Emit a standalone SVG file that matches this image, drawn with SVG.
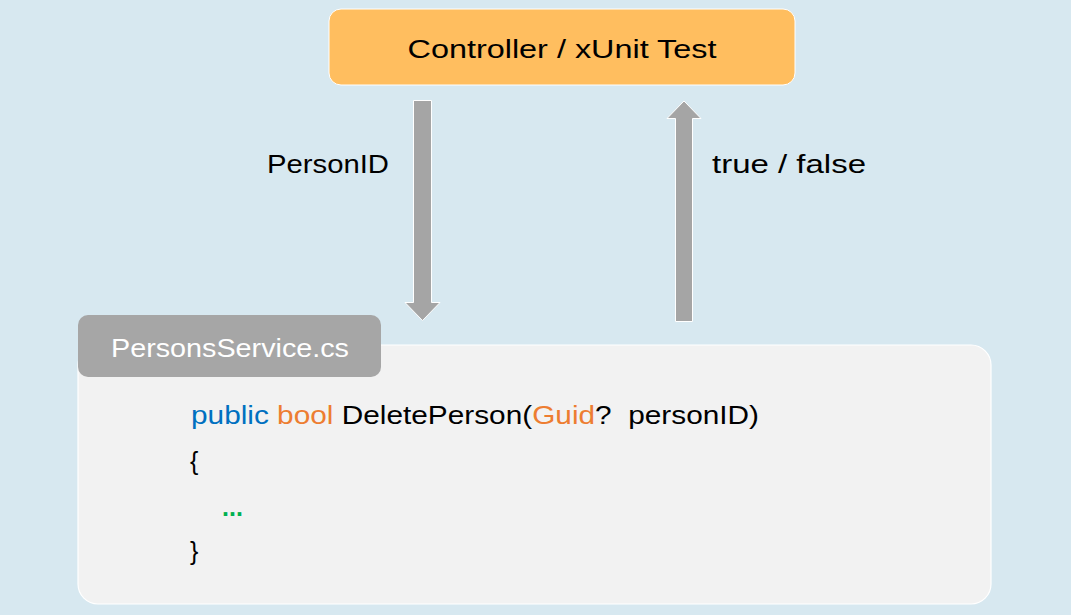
<svg xmlns="http://www.w3.org/2000/svg" width="1071" height="615" viewBox="0 0 1071 615">
<style>
text{font-family:"Liberation Sans",Arial,sans-serif;}
.lbl{font-size:25px;fill:#000;}
.code{font-size:25px;fill:#000;white-space:pre;}
.kw{fill:#0070C0;}
.ty{fill:#ED7D31;}
.cm{fill:#00B050;}
.arrow{fill:#A5A5A5;stroke:#FFFFFF;stroke-width:1;}
</style>
<rect x="0" y="0" width="1071" height="615" fill="#D7E8F0"/>
<g id="controller">
<rect x="329" y="9" width="466" height="76" rx="12" fill="#FFBE5F" stroke="#FFFFFF" stroke-width="1"/>
<text x="562" y="58" class="lbl" font-size="26" text-anchor="middle" textLength="309" lengthAdjust="spacingAndGlyphs">Controller / xUnit Test</text>
</g>
<g id="connectors">
<path class="arrow" d="M413.5,100.5 L431.5,100.5 L431.5,302.5 L440,302.5 L422.5,320.5 L405,302.5 L413.5,302.5 Z"/>
<path class="arrow" d="M675.5,321.5 L692.5,321.5 L692.5,118.5 L701,118.5 L684,101 L667,118.5 L675.5,118.5 Z"/>
<text x="267" y="173" class="lbl" textLength="122" lengthAdjust="spacingAndGlyphs">PersonID</text>
<text x="712" y="173" class="lbl" textLength="154" lengthAdjust="spacingAndGlyphs">true / false</text>
</g>
<g id="service">
<rect x="78" y="345" width="913" height="259" rx="20" fill="#F2F2F2" stroke="#FFFFFF" stroke-width="1.2"/>
<rect x="78" y="315" width="303" height="62" rx="10" fill="#A6A6A6"/>
<text x="230" y="357" font-size="26" fill="#FFFFFF" text-anchor="middle" textLength="238" lengthAdjust="spacingAndGlyphs">PersonsService.cs</text>
<text x="191" y="424" class="code" xml:space="preserve" textLength="568" lengthAdjust="spacingAndGlyphs"><tspan class="kw">public</tspan> <tspan class="ty">bool</tspan> DeletePerson(<tspan class="ty">Guid</tspan>?  personID)</text>
<text x="190" y="470" class="code" font-size="28">{</text>
<text x="222" y="516" class="code cm" font-size="20" font-weight="bold">...</text>
<text x="190" y="560" class="code" font-size="28">}</text>
</g>
</svg>
